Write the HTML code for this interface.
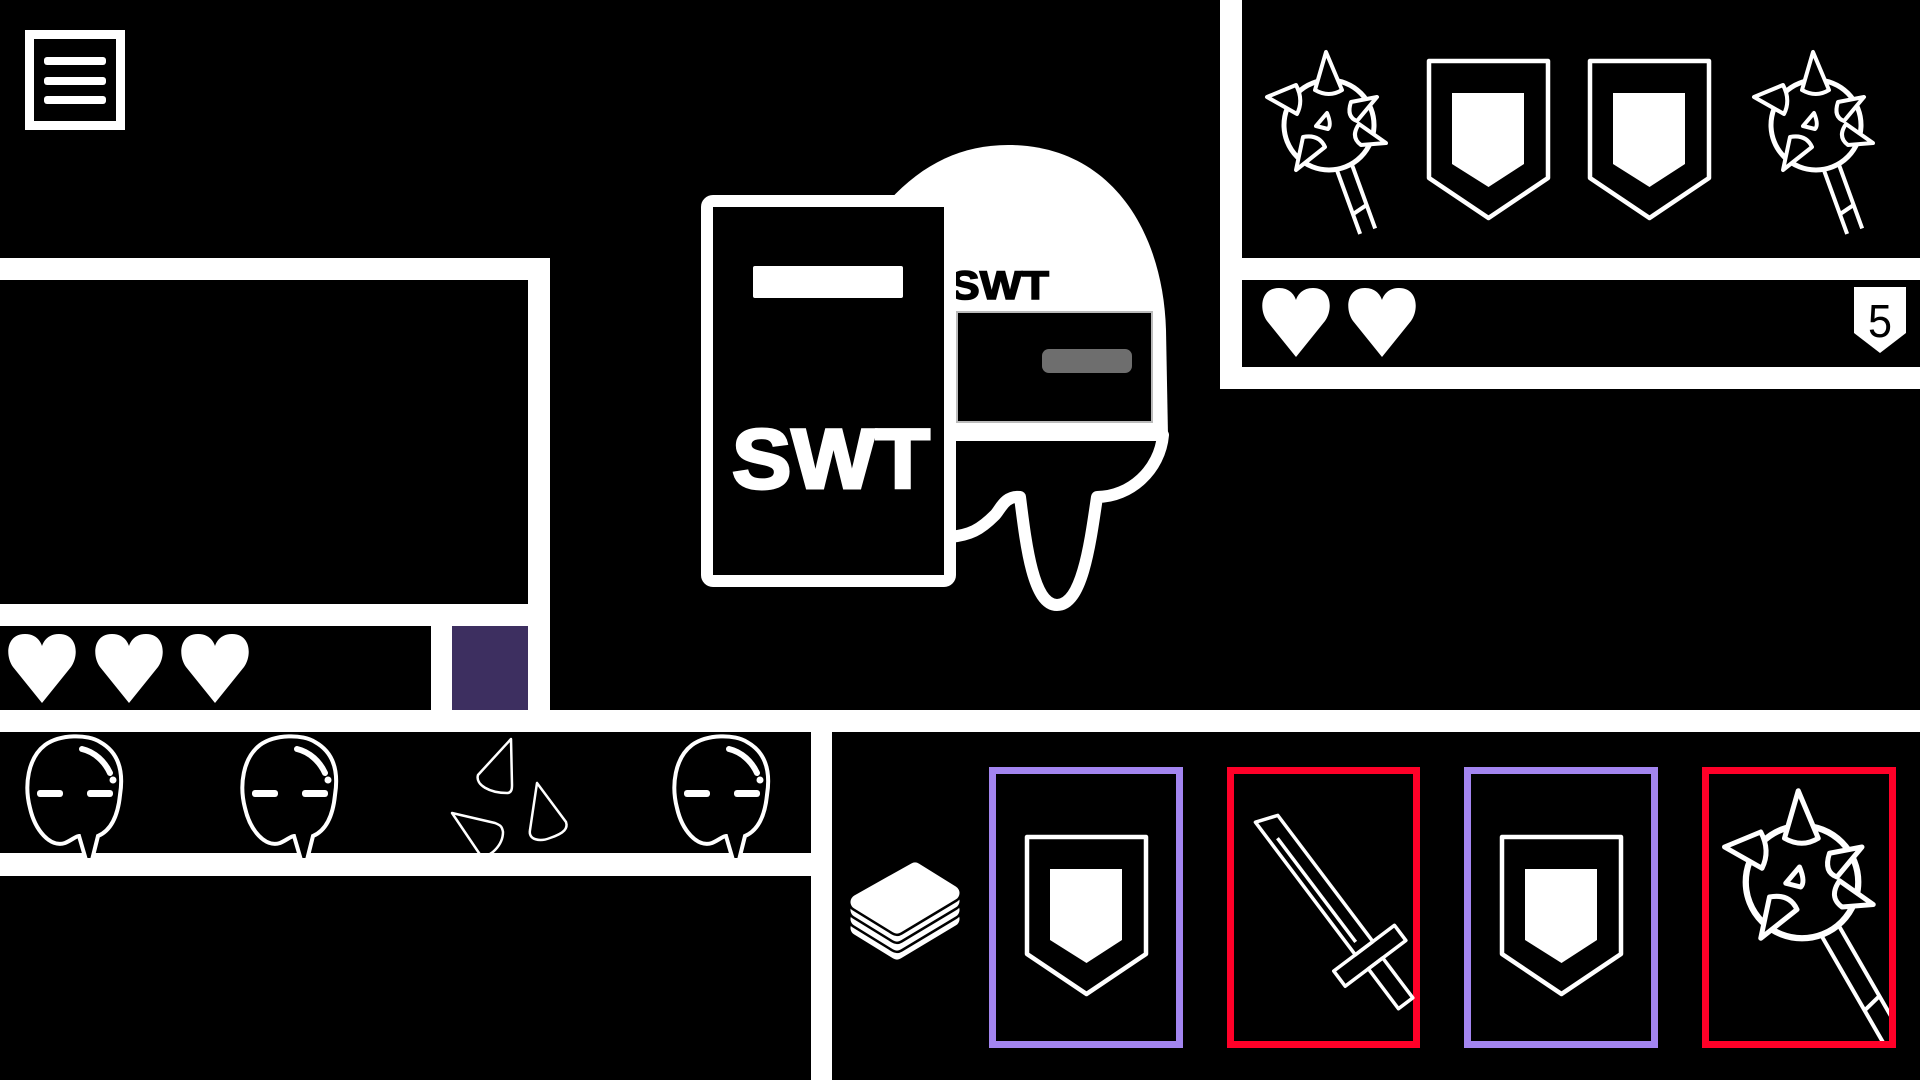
<!DOCTYPE html>
<html><head><meta charset="utf-8"><style>html,body{margin:0;padding:0;background:#000;}svg{display:block}</style></head>
<body>
<svg width="1920" height="1080" viewBox="0 0 1920 1080" xmlns="http://www.w3.org/2000/svg">
<defs>
<path id="heart" d="M35,69 L6,33 C-2,22 -1,0 18,0 C28,0 33,6 35,12 C37,6 42,0 52,0 C71,0 72,22 64,33 Z" fill="#fff"/>
<g id="shield">
<path d="M2,2 H121 V119 L61.5,159 L2,119 Z" fill="#000" stroke="#fff" stroke-width="4.5" stroke-linejoin="round"/>
<path d="M25,34 H97 V105 L61.5,128 L25,105 Z" fill="#fff"/>
</g>
<g id="maceball" stroke="#fff" stroke-width="4" fill="#000" stroke-linejoin="round">
<circle cx="0" cy="0" r="45" stroke-width="5"/>
<path d="M-3,-73 L-14,-35 Q0,-27 13,-35 Z"/>
<path d="M-62,-28 L-33,-40 Q-25,-25 -32,-11 Z"/>
<path d="M48,-28 L22,-23 Q17,-8 28,-4 Z"/>
<path d="M57,18 L30,-1 Q21,12 32,20 Z"/>
<path d="M-33,45 L-26,12 Q-10,9 -4,22 Z"/>
<path d="M-13,1 L-2,-12 Q3,0 -1,4 Z"/>
</g>
<g id="ghost">
<path d="M79,836 L86,860 L92,860 L98,836 C112,830 118,815 120,795 C124,770 118,752 100,742 C88,734 60,734 45,745 C28,758 24,785 30,808 C35,830 50,848 65,843 C72,840 76,836 79,836 Z" fill="#000" stroke="#fff" stroke-width="4"/>
<path d="M82,749 C95,752 105,762 110,773" fill="none" stroke="#fff" stroke-width="6" stroke-linecap="round"/>
<circle cx="113" cy="780" r="3.5" fill="#fff"/>
<rect x="37" y="790" width="26" height="7" rx="3" fill="#fff"/>
<rect x="87" y="790" width="26" height="7" rx="3" fill="#fff"/>
</g>
<path id="card" d="M915,870 L952,893 L897,926 L858,902 Z"/>
<clipPath id="c4"><rect x="1709" y="774" width="180" height="267"/></clipPath>
</defs>

<rect width="1920" height="1080" fill="#000"/>

<rect x="29.5" y="34.5" width="91" height="91" fill="none" stroke="#fff" stroke-width="9"/>
<rect x="44" y="57" width="62" height="8" rx="3" fill="#fff"/>
<rect x="44" y="77" width="62" height="8" rx="3" fill="#fff"/>
<rect x="44" y="96" width="62" height="8" rx="3" fill="#fff"/>

<rect x="0" y="258" width="550" height="22" fill="#fff"/>
<rect x="528" y="258" width="22" height="474" fill="#fff"/>
<rect x="0" y="604" width="550" height="22" fill="#fff"/>
<rect x="431" y="604" width="21" height="110" fill="#fff"/>
<rect x="452" y="626" width="76" height="85" fill="#3d2f60"/>
<use href="#heart" x="7" y="634"/>
<use href="#heart" x="94" y="634"/>
<use href="#heart" x="180" y="634"/>

<rect x="0" y="710" width="1920" height="22" fill="#fff"/>
<rect x="0" y="853" width="811" height="23" fill="#fff"/>
<rect x="811" y="710" width="21" height="370" fill="#fff"/>

<rect x="1220" y="0" width="22" height="389" fill="#fff"/>
<rect x="1220" y="258" width="700" height="22" fill="#fff"/>
<rect x="1220" y="367" width="700" height="22" fill="#fff"/>

<g transform="translate(1329,125)">
<g transform="rotate(-20)" stroke="#fff" stroke-width="4"><line x1="-8" y1="40" x2="-8" y2="113"/><line x1="8" y1="40" x2="8" y2="113"/><line x1="-8" y1="92" x2="8" y2="88"/></g>
<use href="#maceball"/>
</g>
<g transform="translate(1816,125)">
<g transform="rotate(-20)" stroke="#fff" stroke-width="4"><line x1="-8" y1="40" x2="-8" y2="113"/><line x1="8" y1="40" x2="8" y2="113"/><line x1="-8" y1="92" x2="8" y2="88"/></g>
<use href="#maceball"/>
</g>
<use href="#shield" x="1427" y="59"/>
<use href="#shield" x="1588" y="59"/>
<use href="#heart" x="1261" y="288"/>
<use href="#heart" x="1347" y="288"/>
<path d="M1854,287 H1906 V333 L1880,353 L1854,333 Z" fill="#fff"/>
<text x="1880" y="337" font-family="Liberation Sans Narrow, Liberation Sans, sans-serif" font-size="46" text-anchor="middle" fill="#000" textLength="24" lengthAdjust="spacingAndGlyphs">5</text>

<path d="M860,240 C900,175 950,145 1008,145 C1110,145 1163,230 1166,330 L1168,436 L860,436 Z" fill="#fff"/>
<text x="950" y="299" font-family="Liberation Sans, sans-serif" font-weight="bold" font-size="40" fill="#000" stroke="#000" stroke-width="1.5" textLength="99" lengthAdjust="spacingAndGlyphs">SWT</text>
<rect x="957" y="312" width="195" height="110" fill="#000" stroke="#bbb" stroke-width="2"/>
<rect x="1042" y="349" width="90" height="24" rx="7" fill="#6e6e6e"/>
<path d="M950,435 L1163,435 C1160,470 1130,497 1097,497 C1090,545 1082,605 1057,605 C1033,605 1026,545 1020,497 C1005,495 1000,510 995,515 C980,530 970,535 950,537 Z" fill="#000" stroke="#fff" stroke-width="12" stroke-linejoin="round"/>
<rect x="707" y="201" width="243" height="380" rx="6" fill="#000" stroke="#fff" stroke-width="12"/>
<rect x="753" y="266" width="150" height="32" rx="2" fill="#fff"/>
<text x="732" y="488" font-family="Liberation Sans, sans-serif" font-weight="bold" font-size="84" fill="#fff" stroke="#fff" stroke-width="3" textLength="198" lengthAdjust="spacingAndGlyphs">SWT</text>

<use href="#ghost"/>
<use href="#ghost" x="215"/>
<use href="#ghost" x="647"/>
<g fill="none" stroke="#fff" stroke-width="2.5" stroke-linejoin="round">
<path d="M511,739 L478,775 C475,785 490,793 507,793 C512,793 512,788 512,785 Z"/>
<path d="M537,783 L530,830 C528,840 540,842 550,838 C565,833 568,828 566,822 Z"/>
<path d="M452,813 L481,856 C490,858 503,845 503,832 C502,826 500,825 495,823 Z"/>
</g>

<g stroke-linejoin="round">
<g transform="translate(0,26)"><use href="#card" fill="#000" stroke="#000" stroke-width="20"/><use href="#card" fill="#fff" stroke="#fff" stroke-width="15"/></g>
<g transform="translate(0,17)"><use href="#card" fill="#000" stroke="#000" stroke-width="20"/><use href="#card" fill="#fff" stroke="#fff" stroke-width="15"/></g>
<g transform="translate(0,8)"><use href="#card" fill="#000" stroke="#000" stroke-width="20"/><use href="#card" fill="#fff" stroke="#fff" stroke-width="15"/></g>
<g><use href="#card" fill="#000" stroke="#000" stroke-width="20"/><use href="#card" fill="#fff" stroke="#fff" stroke-width="15"/></g>
</g>

<rect x="992.5" y="770.5" width="187" height="274" fill="none" stroke="#a385f0" stroke-width="7"/>
<rect x="1230.5" y="770.5" width="186" height="274" fill="none" stroke="#ff0028" stroke-width="7"/>
<rect x="1467.5" y="770.5" width="187" height="274" fill="none" stroke="#a385f0" stroke-width="7"/>
<rect x="1705.5" y="770.5" width="187" height="274" fill="none" stroke="#ff0028" stroke-width="7"/>
<use href="#shield" x="1025" y="835"/>
<use href="#shield" x="1500" y="835"/>
<g transform="translate(1263,814) rotate(-37)" fill="none" stroke="#fff" stroke-width="3.5" stroke-linejoin="round">
<path d="M-11,2 L11,10 L11,168 L-11,168 Z"/>
<line x1="-3" y1="28" x2="-3" y2="158"/>
<rect x="-38" y="168" width="76" height="19"/>
<rect x="-9" y="187" width="18" height="50"/>
</g>
<g clip-path="url(#c4)">
<g transform="translate(1802,882) scale(1.25)">
<g transform="rotate(-30)" stroke="#fff" stroke-width="3.2"><line x1="-8" y1="40" x2="-8" y2="200"/><line x1="8" y1="40" x2="8" y2="200"/><line x1="-8" y1="114" x2="8" y2="110"/></g>
<use href="#maceball"/>
</g>
</g>
</svg>
</body></html>
